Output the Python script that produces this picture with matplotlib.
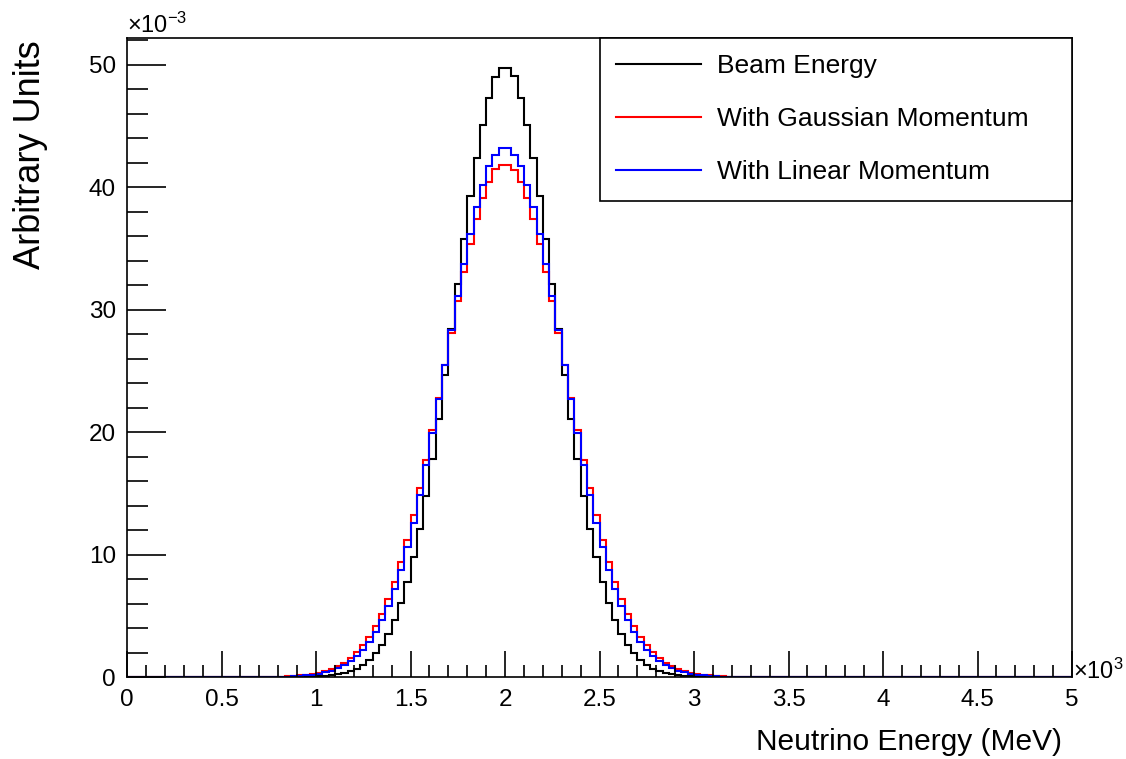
#!/usr/bin/env python3
"""
Neutrino energy spectra: beam energy vs. smeared with Fermi momentum models.
ROOT-style histogram recreated with matplotlib.
"""

import numpy as np
import matplotlib
matplotlib.use("Agg")
import matplotlib.pyplot as plt

plt.rcParams['font.family'] = ['Liberation Sans', 'DejaVu Sans']
plt.rcParams['mathtext.fontset'] = 'custom'
plt.rcParams['mathtext.rm'] = 'Liberation Sans'
plt.rcParams['mathtext.it'] = 'Liberation Sans'

# Histogram binning (MeV): 150 bins from 0 to 5000
N_BINS = 150
E_MIN, E_MAX = 0.0, 5000.0
# the listed contents start at this energy (bin 24), everything else is empty
FIRST_EDGE = 800.0

# Bin contents in units of 1e-3 (normalised to unit area)
beam_energy = [
    0, 0, 0, 0.01, 0.02, 0.04, 0.06, 0.09, 0.14, 0.22,
    0.32, 0.48, 0.69, 0.99, 1.39, 1.92, 2.62, 3.51, 4.64, 6.04,
    7.73, 9.76, 12.1, 14.8, 17.8, 21.1, 24.7, 28.4, 32.1, 35.8,
    39.3, 42.4, 45.1, 47.3, 49.0, 49.7,
    49.7, 49.1, 47.3, 45.1, 42.4, 39.3, 35.8, 32.1, 28.4, 24.7,
    21.1, 17.8, 14.8, 12.1, 9.76, 7.73, 6.04, 4.64, 3.51, 2.62,
    1.92, 1.39, 0.99, 0.69, 0.48, 0.32, 0.22, 0.14, 0.09, 0.06,
    0.04, 0.02, 0.01,
]

gaussian_momentum = [
    0.04, 0.06, 0.09, 0.13, 0.18, 0.25, 0.35, 0.48, 0.66, 0.88,
    1.17, 1.54, 2.01, 2.59, 3.30, 4.15, 5.17, 6.37, 7.77, 9.37,
    11.2, 13.2, 15.4, 17.7, 20.2, 22.8, 25.5, 28.1, 30.7, 33.1,
    35.4, 37.4, 39.1, 40.4, 41.5, 41.8,
    41.8, 41.4, 40.4, 39.1, 37.4, 35.4, 33.1, 30.7, 28.1, 25.5,
    22.8, 20.2, 17.7, 15.4, 13.2, 11.2, 9.37, 7.77, 6.37, 5.17,
    4.15, 3.30, 2.59, 2.01, 1.54, 1.17, 0.88, 0.66, 0.48, 0.35,
    0.25, 0.18, 0.13, 0.09, 0.06, 0.04, 0.03, 0.02, 0.01,
]

linear_momentum = [
    0.025, 0.04, 0.06, 0.09, 0.13, 0.19, 0.26, 0.37, 0.52, 0.71,
    0.96, 1.28, 1.70, 2.23, 2.88, 3.69, 4.66, 5.82, 7.19, 8.77,
    10.6, 12.6, 14.9, 17.3, 19.9, 22.7, 25.5, 28.3, 31.1, 33.7,
    36.2, 38.4, 40.2, 41.7, 42.6, 43.2,
    43.2, 42.6, 41.7, 40.2, 38.4, 36.2, 33.7, 31.1, 28.3, 25.5,
    22.7, 19.9, 17.3, 14.9, 12.6, 10.6, 8.77, 7.19, 5.82, 4.66,
    3.69, 2.88, 2.23, 1.70, 1.28, 0.96, 0.71, 0.52, 0.37, 0.26,
    0.19, 0.13, 0.09, 0.06, 0.04, 0.025, 0.015,
]

labels = ["Beam Energy", "With Gaussian Momentum", "With Linear Momentum"]
colors = ["black", "#ff0000", "#0000ff"]

x_ticks = [0, 500, 1000, 1500, 2000, 2500, 3000, 3500, 4000, 4500, 5000]
x_tick_labels = ["0", "0.5", "1", "1.5", "2", "2.5", "3", "3.5", "4", "4.5", "5"]
y_ticks = [0, 10, 20, 30, 40, 50]
y_tick_labels = ["0", "10", "20", "30", "40", "50"]


def fill_histogram(contents):
    """Put the listed contents into the full 150-bin array."""
    edges = np.linspace(E_MIN, E_MAX, N_BINS + 1)
    width = (E_MAX - E_MIN) / N_BINS
    first = int(round((FIRST_EDGE - E_MIN) / width))
    full = np.zeros(N_BINS)
    full[first:first + len(contents)] = np.array(contents) * 1e-3
    return edges, full


def main():
    fig = plt.figure(figsize=(11.26, 7.59), dpi=100)
    ax = fig.add_axes([127 / 1126, 1 - 677 / 759, 945 / 1126, 639 / 759])

    series = [beam_energy, gaussian_momentum, linear_momentum]
    ymax = 0
    for data, label, color in zip(series, labels, colors):
        edges, full = fill_histogram(data)
        ax.stairs(full, edges, color=color, linewidth=1.5, label=label)
        ymax = max(ymax, full.max())

    ax.set_xlim(E_MIN, E_MAX)
    ax.set_ylim(0, 1.05 * ymax)

    # ROOT-like ticks: inside, bottom/left only
    ax.set_xticks(x_ticks)
    ax.set_xticklabels(x_tick_labels)
    ax.set_xticks(np.arange(0, 5001, 100), minor=True)
    ax.set_yticks(np.array(y_ticks) * 1e-3)
    ax.set_yticklabels(y_tick_labels)
    ax.set_yticks(np.arange(0, 0.0521, 0.002), minor=True)
    ax.tick_params(which="both", direction="in", top=False, right=False,
                   width=1.2, labelsize=17.5)
    ax.tick_params(axis="x", which="major", length=19, pad=9)
    ax.tick_params(axis="x", which="minor", length=9)
    ax.tick_params(axis="y", which="major", length=28, pad=8)
    ax.tick_params(axis="y", which="minor", length=15)
    for spine in ax.spines.values():
        spine.set_linewidth(1.2)

    # exponent markers
    fig.text(127 / 1126, 1 - 33 / 759, r"$\times10^{-3}$", fontsize=17,
             ha="left", va="baseline")
    fig.text(1073 / 1126, 1 - 679 / 759, r"$\times10^{3}$", fontsize=17,
             ha="left", va="baseline")

    # axis titles, ROOT aligns them to the top / right ends
    fig.text(1062 / 1126, 1 - 750 / 759, "Neutrino Energy (MeV)",
             fontsize=21.5, ha="right", va="baseline")
    fig.text(31 / 1126, 1 - 40 / 759, "Arbitrary Units", fontsize=26,
             rotation=90, ha="center", va="top")

    leg = ax.legend(loc="upper left", bbox_to_anchor=(473 / 945, 0, 472 / 945, 1.0),
                    mode="expand", borderaxespad=0, fancybox=False,
                    edgecolor="black", framealpha=1, fontsize=19,
                    handlelength=3.2, handletextpad=0.6, labelspacing=1.1,
                    borderpad=0.62)
    leg.get_frame().set_linewidth(1.2)
    for line in leg.get_lines():
        line.set_linewidth(1.5)

    fig.savefig("out.png", dpi=100)


if __name__ == "__main__":
    main()
